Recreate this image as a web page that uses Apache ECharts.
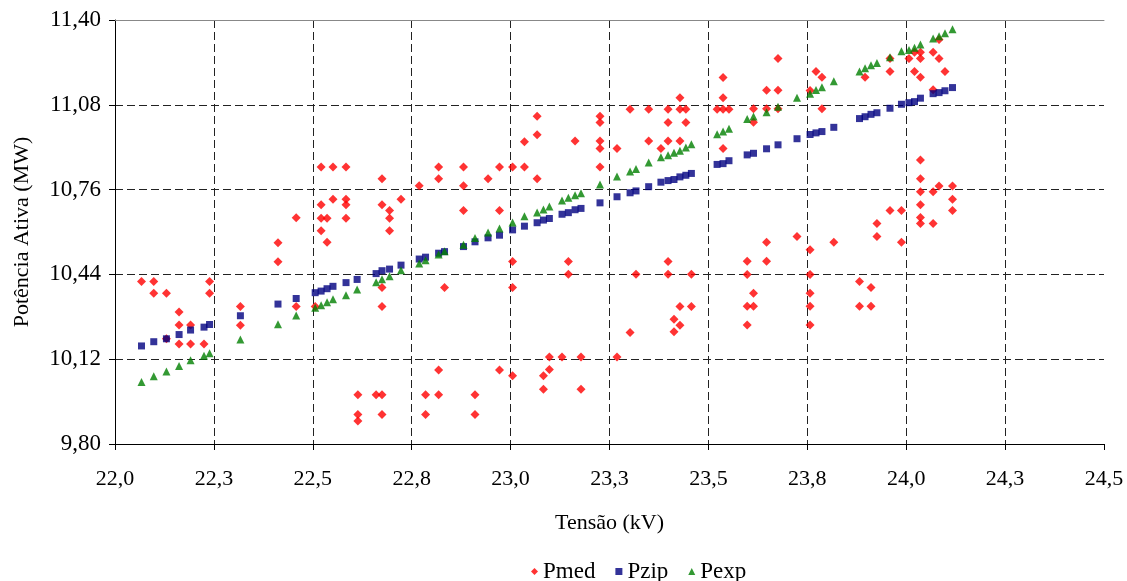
<!DOCTYPE html>
<html><head><meta charset="utf-8">
<script src="https://cdn.jsdelivr.net/npm/echarts@6/dist/echarts.min.js"></script>
<style>html,body{margin:0;padding:0;background:#fff}#c{width:1127px;height:581px}</style>
</head><body><div id="c"></div>
<script>
// Tick labels
const xTickLabels = ['22,0','22,3','22,5','22,8','23,0','23,3','23,5','23,8','24,0','24,3','24,5'];
const yTickLabels = ['9,80','10,12','10,44','10,76','11,08','11,40'];

// Measured active power (Pmed): voltage (kV) and power (MW)
const pmedV = [
22.067,22.098,22.098,22.130,22.130,22.162,22.162,22.162,22.191,22.191,22.225,22.239,22.239,22.317,22.317,
22.412,22.412,22.458,22.458,22.506,22.521,22.521,22.521,22.521,22.536,22.536,22.551,22.551,22.584,22.584,
22.584,22.584,22.614,22.614,22.614,22.660,22.675,22.675,22.675,22.675,22.675,22.675,22.694,22.694,22.694,
22.723,22.769,22.785,22.785,22.818,22.818,22.818,22.818,22.833,22.881,22.881,22.881,22.910,22.910,22.943,
22.972,22.972,22.972,23.005,23.005,23.005,23.005,23.035,23.035,23.067,23.067,23.067,23.083,23.083,23.098,
23.098,23.130,23.146,23.146,23.163,23.178,23.178,23.226,23.226,23.226,23.226,23.226,23.269,23.269,23.302,
23.302,23.317,23.349,23.349,23.380,23.398,23.398,23.398,23.398,23.398,23.413,23.413,23.428,23.428,23.428,
23.428,23.428,23.443,23.443,23.457,23.457,23.522,23.537,23.537,23.537,23.537,23.552,23.598,23.598,23.598,
23.598,23.614,23.614,23.614,23.614,23.647,23.647,23.647,23.647,23.676,23.676,23.676,23.724,23.757,23.757,
23.757,23.757,23.757,23.757,23.772,23.787,23.787,23.817,23.882,23.882,23.896,23.911,23.911,23.926,23.926,
23.959,23.959,23.959,23.988,23.988,24.007,24.021,24.021,24.036,24.036,24.036,24.036,24.036,24.036,24.036,
24.036,24.036,24.068,24.068,24.068,24.068,24.083,24.083,24.083,24.098,24.117,24.117,24.117];
const pmed = [
10.413,10.413,10.369,10.369,10.197,10.298,10.249,10.177,10.249,10.177,10.177,10.413,10.369,10.319,10.248,
10.559,10.488,10.654,10.319,10.319,10.845,10.703,10.652,10.605,10.652,10.561,10.845,10.724,10.845,10.724,
10.703,10.652,9.986,9.911,9.887,9.986,10.801,10.703,10.391,10.319,9.986,9.911,10.681,10.652,10.605,
10.724,10.775,9.986,9.911,10.845,10.801,10.079,9.986,10.391,10.845,10.775,10.681,9.986,9.911,10.801,
10.845,10.681,10.079,10.845,10.489,10.391,10.058,10.941,10.845,11.037,10.967,10.801,10.058,10.007,10.128,
10.081,10.128,10.489,10.441,10.943,10.128,10.007,11.037,11.013,10.943,10.915,10.845,10.915,10.128,11.063,
10.221,10.441,11.063,10.943,10.915,11.063,11.013,10.943,10.489,10.441,10.271,10.224,11.107,11.063,10.943,
10.319,10.248,11.063,11.013,10.441,10.319,11.063,11.183,11.107,11.063,10.915,11.063,10.490,10.440,10.320,
10.249,11.065,11.014,10.369,10.320,11.135,11.065,10.561,10.490,11.255,11.135,11.065,10.583,11.134,10.533,
10.440,10.369,10.320,10.249,11.206,11.184,11.065,10.561,10.413,10.320,11.184,10.391,10.320,10.632,10.583,
11.255,11.206,10.681,10.681,10.561,11.255,11.278,11.206,11.278,11.255,11.184,10.872,10.801,10.752,10.703,
10.655,10.632,11.278,11.137,10.752,10.632,11.326,11.255,10.774,11.206,10.774,10.724,10.681];

// Model curves (Pzip, Pexp) at each distinct voltage
const modelV = [
22.067,22.098,22.130,22.162,22.191,22.225,22.239,22.317,22.412,22.458,22.506,22.521,22.536,22.551,22.584,
22.612,22.660,22.675,22.694,22.723,22.769,22.785,22.818,22.833,22.881,22.910,22.943,22.972,23.005,23.035,
23.067,23.083,23.098,23.130,23.146,23.163,23.178,23.226,23.269,23.302,23.317,23.349,23.380,23.398,23.413,
23.428,23.443,23.457,23.522,23.537,23.552,23.598,23.614,23.647,23.676,23.724,23.757,23.772,23.787,23.817,
23.882,23.896,23.911,23.926,23.959,23.988,24.007,24.021,24.036,24.068,24.083,24.098,24.117];
const pzip = [
10.170,10.186,10.197,10.213,10.230,10.241,10.251,10.284,10.328,10.349,10.371,10.377,10.386,10.395,10.409,
10.421,10.443,10.454,10.460,10.475,10.498,10.505,10.520,10.526,10.545,10.563,10.578,10.588,10.608,10.622,
10.635,10.645,10.651,10.667,10.673,10.684,10.689,10.710,10.733,10.748,10.755,10.771,10.788,10.794,10.798,
10.808,10.814,10.821,10.855,10.858,10.869,10.891,10.897,10.914,10.929,10.952,10.968,10.974,10.979,10.995,
11.028,11.035,11.044,11.050,11.067,11.082,11.088,11.092,11.105,11.122,11.126,11.133,11.145];
const pexp = [
10.034,10.056,10.074,10.094,10.116,10.133,10.142,10.194,10.252,10.285,10.314,10.324,10.335,10.346,10.361,
10.383,10.410,10.422,10.433,10.456,10.481,10.493,10.515,10.527,10.552,10.577,10.598,10.613,10.636,10.659,
10.674,10.685,10.696,10.719,10.729,10.739,10.746,10.779,10.809,10.828,10.838,10.862,10.882,10.890,10.899,
10.907,10.919,10.931,10.969,10.979,10.990,11.026,11.036,11.052,11.073,11.107,11.122,11.136,11.146,11.169,
11.206,11.218,11.229,11.238,11.259,11.282,11.287,11.295,11.308,11.330,11.339,11.350,11.365];

const FONT = 'Liberation Serif';
const X_MIN = 22, X_MAX = 24.5, X_INT = 0.25;
const Y_MIN = 9.8, Y_MAX = 11.4, Y_INT = 0.32;

const chart = echarts.init(document.getElementById('c'), null, {renderer: 'canvas'});
const gridLine = {show: true, showMinLine: false, showMaxLine: false,
  lineStyle: {color: '#222', width: 1, type: [8, 4]}};
chart.setOption({
  animation: false,
  backgroundColor: '#fff',
  textStyle: {fontFamily: FONT},
  grid: {left: 115, right: 23, top: 20, bottom: 137, containLabel: false},
  legend: {
    data: ['Pmed', 'Pzip', 'Pexp'],
    left: 526, top: 555,
    itemWidth: 7, itemHeight: 7, itemGap: 20,
    textStyle: {fontFamily: FONT, fontSize: 23, color: '#000'}
  },
  xAxis: [{
    type: 'value', min: X_MIN, max: X_MAX, interval: X_INT,
    name: 'Tensão (kV)', nameLocation: 'middle', nameGap: 68,
    nameTextStyle: {fontFamily: FONT, fontSize: 22, color: '#000'},
    axisLine: {show: true, onZero: false, lineStyle: {color: '#000', width: 1}},
    axisTick: {show: true, inside: false, length: 6, lineStyle: {color: '#000'}},
    axisLabel: {margin: 24, fontFamily: FONT, fontSize: 22, color: '#000',
      formatter: v => xTickLabels[Math.round((v - X_MIN) / X_INT)]},
    splitLine: gridLine
  }, {
    type: 'value', position: 'top', min: X_MIN, max: X_MAX,
    axisLine: {show: true, onZero: false, lineStyle: {color: '#888', width: 1}},
    axisTick: {show: false}, axisLabel: {show: false}, splitLine: {show: false}
  }],
  yAxis: {
    type: 'value', min: Y_MIN, max: Y_MAX, interval: Y_INT,
    name: 'Potência Ativa (MW)', nameLocation: 'middle', nameGap: 82,
    nameTextStyle: {fontFamily: FONT, fontSize: 22, color: '#000'},
    axisLine: {show: true, onZero: false, lineStyle: {color: '#000', width: 1}},
    axisTick: {show: true, inside: false, length: 6, lineStyle: {color: '#000'}},
    axisLabel: {margin: 14, fontFamily: FONT, fontSize: 23, color: '#000',
      formatter: v => yTickLabels[Math.round((v - Y_MIN) / Y_INT)]},
    splitLine: gridLine
  },
  series: [
    {name: 'Pmed', type: 'scatter', symbol: 'diamond', symbolSize: 9,
     itemStyle: {color: '#ff0000'},
     data: pmedV.map((v, i) => [v, pmed[i]])},
    {name: 'Pzip', type: 'scatter', symbol: 'rect', symbolSize: 7,
     itemStyle: {color: '#000080'},
     data: modelV.map((v, i) => [v, pzip[i]])},
    {name: 'Pexp', type: 'scatter', symbol: 'triangle', symbolSize: 8,
     itemStyle: {color: '#008000'},
     data: modelV.map((v, i) => [v, pexp[i]])}
  ]
});
</script></body></html>
